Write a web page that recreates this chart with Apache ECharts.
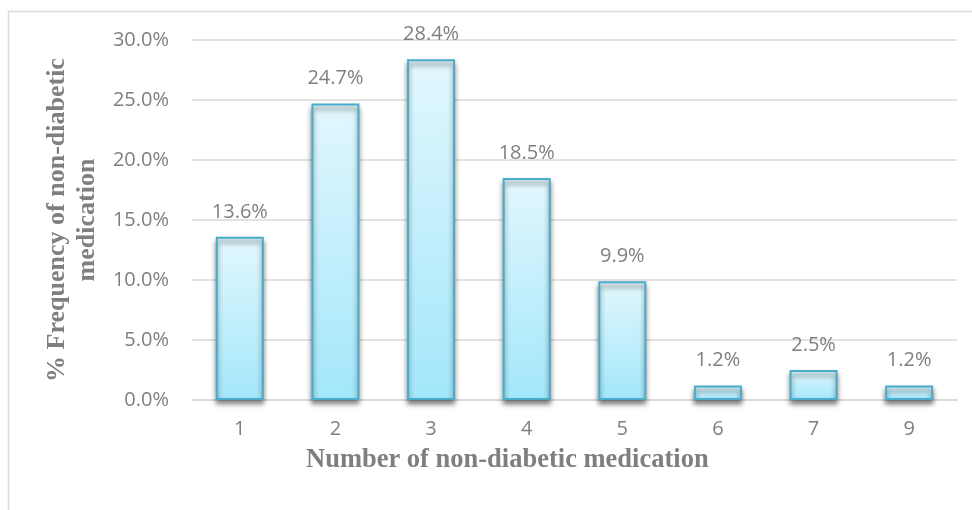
<!DOCTYPE html>
<html>
<head>
<meta charset="utf-8">
<script src="https://cdn.jsdelivr.net/npm/echarts@6/dist/echarts.min.js"></script>
<style>
  html, body { margin: 0; padding: 0; background: #ffffff; }
  #chart { width: 972px; height: 510px; }
</style>
</head>
<body>
<div id="chart"></div>
<script>
// Number of non-diabetic medications per patient and share of patients
const categories = ['1', '2', '3', '4', '5', '6', '7', '9'];
const percentValues = [13.6, 24.7, 28.4, 18.5, 9.9, 1.2, 2.5, 1.2];
const yTicks = [0, 5, 10, 15, 20, 25, 30];

const yTitle = '% Frequency of non-diabetic\nmedication';
const xTitle = 'Number of non-diabetic medication';

const grey = '#7f7f7f';
const chart = echarts.init(document.getElementById('chart'), null, { renderer: 'canvas' });

chart.setOption({
  animation: false,
  backgroundColor: '#ffffff',
  grid: { left: 192, right: 15, top: 40, bottom: 110, containLabel: false },
  xAxis: {
    type: 'category',
    data: categories,
    axisLine: { lineStyle: { color: '#d9d9d9', width: 1.5 } },
    axisTick: { show: false },
    axisLabel: { color: grey, fontFamily: 'Open Sans', fontSize: 20, margin: 19 }
  },
  yAxis: {
    type: 'value',
    min: yTicks[0],
    max: yTicks[yTicks.length - 1],
    interval: 5,
    axisLine: { show: false },
    axisTick: { show: false },
    splitLine: { lineStyle: { color: '#d9d9d9', width: 1.5 } },
    axisLabel: {
      color: grey, fontFamily: 'Open Sans', fontSize: 20, margin: 23,
      formatter: v => v.toFixed(1) + '%'
    },
    name: yTitle,
    nameLocation: 'middle',
    nameGap: 82,
    nameRotate: 90,
    nameTextStyle: {
      color: grey, fontFamily: 'Liberation Serif', fontWeight: 'bold',
      fontSize: 26, lineHeight: 30, align: 'center'
    }
  },
  graphic: [
    {
      type: 'polyline',
      shape: { points: [[8.5, 520], [8.5, 11.5], [980, 11.5]] },
      style: { stroke: '#d9d9d9', lineWidth: 1.5, fill: null },
      silent: true
    },
    {
      type: 'text',
      left: 306,
      top: 447,
      style: {
        text: xTitle,
        fill: grey,
        font: 'bold 26.5px "Liberation Serif"'
      }
    }
  ],
  series: [{
    type: 'bar',
    data: percentValues,
    barWidth: 48,
    itemStyle: {
      color: new echarts.graphic.LinearGradient(0, 0, 0, 1, [
        { offset: 0, color: '#e2f7fd' },
        { offset: 1, color: '#a3e7fb' }
      ]),
      borderColor: '#4aaccb',
      borderWidth: 2,
      shadowColor: 'rgba(0,0,0,0.5)',
      shadowBlur: 5,
      shadowOffsetY: 4
    },
    label: {
      show: true,
      position: 'top',
      distance: 15,
      color: grey,
      fontFamily: 'Open Sans',
      fontSize: 20,
      formatter: p => p.value.toFixed(1) + '%'
    }
  }]
});
</script>
</body>
</html>
